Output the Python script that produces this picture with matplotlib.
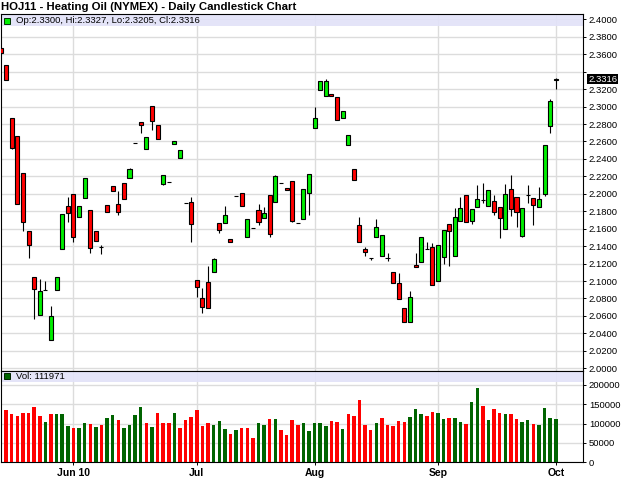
import numpy as np
import pandas as pd
import matplotlib
matplotlib.use("Agg")
import matplotlib.pyplot as plt
from matplotlib.patches import Rectangle

plt.rcParams['font.family'] = ['Liberation Sans', 'DejaVu Sans']

# trading days, May 12 - Oct 1 2010 (holidays removed)
dates = pd.bdate_range('2010-05-12', '2010-10-01')
dates = dates.drop(pd.to_datetime(['2010-05-31', '2010-07-05', '2010-09-06']))

opens = [2.3677, 2.3475, 2.2875, 2.2661, 2.2240, 2.1569, 2.1042, 2.0610, 2.0896, 2.0323,
         2.0894, 2.1363, 2.1862, 2.1993, 2.1729, 2.1954, 2.1810, 2.1569, 2.1392, 2.1870,
         2.2088, 2.1882, 2.2119, 2.2176, 2.2577, 2.2825, 2.2509, 2.3005, 2.2784, 2.2111,
         2.2137, 2.2569, 2.2412, 2.1890, 2.1901, 2.1011, 2.0808, 2.0988, 2.1106, 2.1660,
         2.1668, 2.1481, 2.1977, 2.2004, 2.1500, 2.1610, 2.1810, 2.1718, 2.1985, 2.1901,
         2.2119, 2.2065, 2.2149, 2.1668, 2.1706, 2.2004, 2.2749, 2.3196, 2.3123, 2.3150,
         2.3111, 2.2875, 2.2554, 2.2279, 2.1641, 2.1366, 2.1263, 2.1507, 2.1286, 2.1263,
         2.1102, 2.0980, 2.0686, 2.0533, 2.1186, 2.1214, 2.1366, 2.1385, 2.0999, 2.1278,
         2.1649, 2.1286, 2.1687, 2.1989, 2.1687, 2.1844, 2.1928, 2.1859, 2.1920, 2.1844,
         2.1599, 2.2054, 2.1958, 2.1519, 2.1985, 2.1954, 2.1844, 2.1993, 2.2779, 2.3300]
highs = [2.3677, 2.3475, 2.2875, 2.2661, 2.2240, 2.1569, 2.1042, 2.1019, 2.1003, 2.0713,
         2.1049, 2.1764, 2.1958, 2.1993, 2.1862, 2.2176, 2.1810, 2.1569, 2.1412, 2.1870,
         2.2088, 2.2027, 2.2119, 2.2298, 2.2577, 2.2825, 2.2646, 2.3005, 2.2784, 2.2211,
         2.2137, 2.2607, 2.2497, 2.1890, 2.1958, 2.1011, 2.0916, 2.1171, 2.1265, 2.1660,
         2.1859, 2.1481, 2.1977, 2.2004, 2.1706, 2.1610, 2.1882, 2.1851, 2.1985, 2.2215,
         2.2119, 2.2065, 2.2149, 2.1668, 2.2054, 2.2222, 2.2990, 2.3291, 2.3322, 2.3150,
         2.3111, 2.2948, 2.2669, 2.2279, 2.1729, 2.1392, 2.1263, 2.1710, 2.1523, 2.1317,
         2.1102, 2.1088, 2.0686, 2.0881, 2.1317, 2.1500, 2.1443, 2.1431, 2.1412, 2.1584,
         2.1649, 2.1839, 2.1966, 2.1989, 2.1821, 2.2099, 2.2119, 2.2039, 2.1990, 2.1844,
         2.2111, 2.2211, 2.1958, 2.1832, 2.2099, 2.1954, 2.2080, 2.2558, 2.3085, 2.3327]
lows = [2.3616, 2.3303, 2.2509, 2.1882, 2.1572, 2.1266, 2.0567, 2.0610, 2.0896, 2.0323,
        2.0894, 2.1363, 2.1679, 2.1450, 2.1729, 2.1954, 2.1317, 2.1461, 2.1305, 2.1794,
        2.2034, 2.1752, 2.1936, 2.2176, 2.2577, 2.2699, 2.2509, 2.2730, 2.2623, 2.2100,
        2.2137, 2.2569, 2.2412, 2.1890, 2.1450, 2.0813, 2.0629, 2.0686, 2.1106, 2.1546,
        2.1668, 2.1443, 2.1977, 2.1862, 2.1500, 2.1610, 2.1647, 2.1718, 2.1500, 2.1901,
        2.2119, 2.2042, 2.1680, 2.1668, 2.1706, 2.1756, 2.2749, 2.3196, 2.3123, 2.3119,
        2.2844, 2.2875, 2.2554, 2.2157, 2.1446, 2.1286, 2.1240, 2.1507, 2.1286, 2.1232,
        2.0973, 2.0797, 2.0533, 2.0533, 2.1156, 2.1214, 2.1366, 2.0957, 2.0999, 2.1191,
        2.1171, 2.1286, 2.1687, 2.1672, 2.1650, 2.1844, 2.1890, 2.1859, 2.1760, 2.1496,
        2.1599, 2.1748, 2.1615, 2.1500, 2.1890, 2.1641, 2.1844, 2.1980, 2.2699, 2.3205]
closes = [2.3616, 2.3303, 2.2531, 2.1882, 2.1675, 2.1408, 2.0911, 2.0881, 2.0896, 2.0602,
          2.1049, 2.1764, 2.1775, 2.1507, 2.1862, 2.2176, 2.1377, 2.1461, 2.1392, 2.1794,
          2.2034, 2.1794, 2.1936, 2.2280, 2.2577, 2.2791, 2.2646, 2.2836, 2.2623, 2.2211,
          2.2137, 2.2607, 2.2497, 2.1890, 2.1649, 2.0934, 2.0705, 2.0686, 2.1248, 2.1584,
          2.1752, 2.1443, 2.1977, 2.1862, 2.1706, 2.1610, 2.1679, 2.1783, 2.1538, 2.2203,
          2.2119, 2.2042, 2.1691, 2.1668, 2.2054, 2.2222, 2.2864, 2.3291, 2.3295, 2.3119,
          2.2844, 2.2948, 2.2669, 2.2157, 2.1446, 2.1328, 2.1263, 2.1615, 2.1523, 2.1263,
          2.0973, 2.0797, 2.0533, 2.0816, 2.1156, 2.1500, 2.1366, 2.0957, 2.1412, 2.1584,
          2.1569, 2.1736, 2.1832, 2.1672, 2.1821, 2.1936, 2.1928, 2.2039, 2.1787, 2.1718,
          2.1993, 2.1821, 2.1787, 2.1832, 2.1985, 2.1870, 2.1936, 2.2558, 2.3062, 2.3316]
volumes = [np.nan,
           135500, 124400, 120700, 127700, 127700, 142500, 120000, 104400, 125900, 125900,
           125900, 94000, 88900, 88900, 101000, 98500, 92200, 95900, 114800, 121800,
           109600, 88900, 95900, 123300, 142500, 101000, 91500, 127000, 102600, 102600,
           127700, 88900, 109600, 116600, 135500, 94000, 101000, 95900, 106200, 85500,
           73300, 82900, 88900, 88900, 63000, 101000, 95900, 112200, 112200, 83700,
           70700, 109600, 95900, 101000, 81900, 102600, 102600, 94000, 107000, 104400,
           86300, 125900, 119200, 161400, 96600, 83700, 101000, 114800, 95900, 94000,
           107000, 104400, 118100, 137300, 124400, 120700, 129600, 127700, 112200, 114000,
           115600, 104400, 98500, 155500, 191700, 145900, 109600, 137300, 127700, 125900,
           124400, 112200, 104400, 109600, 98500, 95900, 139900, 114800, 111971]

TITLE = "HOJ11 - Heating Oil (NYMEX) - Daily Candlestick Chart"
UP, DOWN = '#00EE00', '#FF0000'
VUP, VDOWN = '#006400', '#FF0000'
GRID = '#DCDCDC'
BAND = '#E2E2F8'


def main():
    o, h, l, c = map(np.array, (opens, highs, lows, closes))
    v = np.array(volumes, dtype=float)
    x = np.arange(len(dates))

    fig = plt.figure(figsize=(6.25, 4.79), dpi=100)
    W, H = 625, 479
    left, right = 0.5 / W, 582.7 / W
    ax = fig.add_axes([left, 1 - 370.5 / H, right - left, (370.5 - 14) / H])
    axv = fig.add_axes([left, 1 - 462.3 / H, right - left, (462.3 - 370.5) / H], sharex=ax)

    # month ticks at first trading day of each month
    month_start = [i for i in range(1, len(dates)) if dates[i].month != dates[i - 1].month]
    labels = []
    for k, i in enumerate(month_start):
        lab = dates[i].strftime('%b')
        if k == 0:
            lab += dates[i].strftime(' %y')
        labels.append(lab)

    # candles
    up = c >= o
    ax.vlines(x, l, h, color='black', linewidth=0.8, zorder=2)
    ax.bar(x, np.abs(c - o), bottom=np.minimum(o, c), width=0.72,
           color=np.where(up, UP, DOWN), edgecolor='black', linewidth=0.8, zorder=3)

    # volume, coloured by close vs previous close
    vup = np.r_[True, c[1:] >= c[:-1]]
    axv.bar(x, v, width=0.62, color=np.where(vup, VUP, VDOWN), linewidth=0, zorder=3)

    ax.set_xlim(0.0, 103.8)
    ax.set_ylim(1.99736, 2.4062)
    axv.set_ylim(0, 237500)

    for a in (ax, axv):
        a.set_xticks(month_start)
        a.grid(True, color=GRID, linewidth=1.0, zorder=0)
        a.set_axisbelow(True)
        a.yaxis.tick_right()
        a.tick_params(axis='y', direction='out', length=2.5, width=0.7, pad=2,
                      labelsize=6.8, colors='black')
        for s in a.spines.values():
            s.set_linewidth(0.8)
            s.set_color('black')

    # the last-price flag hides the label just above it
    pticks = np.arange(2.0, 2.4001, 0.02)
    ax.set_yticks(pticks)
    ax.set_yticklabels(['' if 0 < t - c[-1] < 0.012 else f"{t:.4f}" for t in pticks])
    ax.tick_params(axis='x', length=0, labelbottom=False)

    axv.set_yticks(np.arange(0, 200001, 50000))
    axv.set_yticklabels([f"{t:d}" for t in range(0, 200001, 50000)])
    axv.set_xticklabels(labels, fontweight='bold', fontsize=7.5)
    axv.tick_params(axis='x', direction='out', length=2.5, width=0.7, pad=1.5)

    # legend bands
    ax.add_patch(Rectangle((0, 1 - 11.7 / 356.5), 1, 11.7 / 356.5, transform=ax.transAxes,
                           facecolor=BAND, edgecolor='none', zorder=1, alpha=0.9))
    axv.add_patch(Rectangle((0, 1 - 11.2 / 91.8), 1, 11.2 / 91.8, transform=axv.transAxes,
                            facecolor=BAND, edgecolor='none', zorder=1, alpha=0.9))
    ax.plot([0.012], [1 - 6.5 / 356.5], marker='s', markersize=4.2, color=UP,
            markeredgecolor='#003300', markeredgewidth=0.7, transform=ax.transAxes,
            clip_on=False, zorder=5)
    ax.text(0.026, 1 - 6.3 / 356.5,
            f"Op:{o[-1]:.4f}, Hi:{h[-1]:.4f}, Lo:{l[-1]:.4f}, Cl:{c[-1]:.4f}",
            transform=ax.transAxes, fontsize=6.8, va='center', ha='left', zorder=5)
    axv.plot([0.012], [1 - 5.8 / 91.8], marker='s', markersize=4.2, color=VUP,
             markeredgecolor='#002200', markeredgewidth=0.7, transform=axv.transAxes,
             clip_on=False, zorder=5)
    axv.text(0.026, 1 - 5.6 / 91.8, f"Vol: {int(v[-1])}", transform=axv.transAxes,
             fontsize=6.8, va='center', ha='left', zorder=5)

    # last price flag
    ax.annotate(f"{c[-1]:.4f}", xy=(1.0, c[-1]), xycoords=('axes fraction', 'data'),
                xytext=(4, 0), textcoords='offset points', fontsize=6.8, color='white',
                va='center', ha='left', annotation_clip=False,
                bbox=dict(boxstyle='square,pad=0.1', facecolor='black', edgecolor='none'))

    fig.text(1 / W, 1 - 7 / H, TITLE, fontsize=8.2, fontweight='bold', va='center', ha='left')

    fig.savefig('out.png', dpi=100)
    plt.close(fig)


if __name__ == "__main__":
    main()
